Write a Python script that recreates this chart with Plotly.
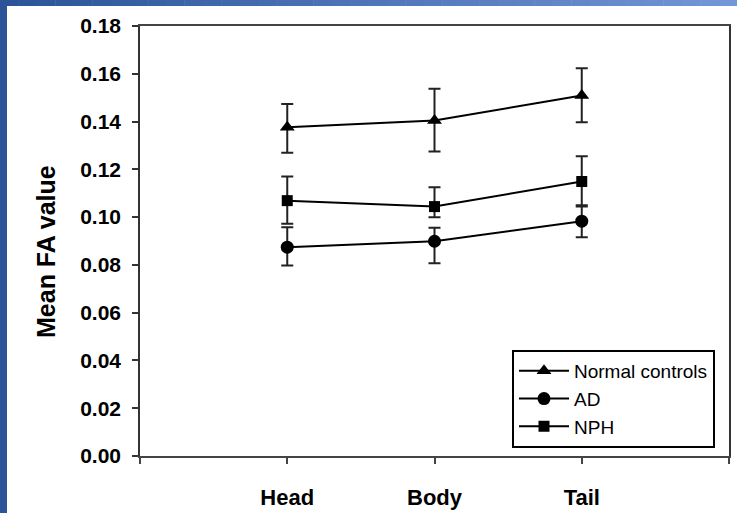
import plotly.graph_objects as go

# ---- data ----
regions = ["Head", "Body", "Tail"]
region_pos = [1, 2, 3]

normal_mean = [0.1376, 0.1404, 0.1509]
normal_err_plus = [0.0098, 0.0133, 0.0114]
normal_err_minus = [0.0107, 0.0129, 0.0112]

ad_mean = [0.0874, 0.0899, 0.0983]
ad_err_plus = [0.0084, 0.0056, 0.0067]
ad_err_minus = [0.0077, 0.0092, 0.0067]

nph_mean = [0.1069, 0.1044, 0.1149]
nph_err_plus = [0.0101, 0.0081, 0.0106]
nph_err_minus = [0.0097, 0.0045, 0.0105]

y_ticks = [0.00, 0.02, 0.04, 0.06, 0.08, 0.10, 0.12, 0.14, 0.16, 0.18]
y_title = "Mean FA value"

W, H = 737, 513
ML, MR, MT, MB = 140, 8, 26, 57
PW, PH = W - ML - MR, H - MT - MB


def px_x(p):
    return (p - ML) / PW


def px_y(p):
    return (H - MB - p) / PH


FONT = "Liberation Sans, Arial, sans-serif"

fig = go.Figure()


def add_series(name, mean, ep, em, symbol, size):
    fig.add_trace(go.Scatter(
        x=region_pos, y=mean, name=name, mode="lines+markers",
        line=dict(color="black", width=2),
        marker=dict(symbol=symbol, size=size, color="black"),
        error_y=dict(type="data", symmetric=False, array=ep, arrayminus=em,
                     color="#222", thickness=2, width=6),
    ))


add_series("Normal controls", normal_mean, normal_err_plus, normal_err_minus, "triangle-up", 13)
add_series("AD", ad_mean, ad_err_plus, ad_err_minus, "circle", 13)
add_series("NPH", nph_mean, nph_err_plus, nph_err_minus, "square", 11)

# decorative slide border (blue band on left and gradient band on top)
shapes = [dict(type="rect", xref="paper", yref="paper",
               x0=px_x(-2), x1=px_x(7), y0=px_y(H + 2), y1=px_y(-2),
               fillcolor="#2b5598", line=dict(width=0), layer="below")]
n = 40
c0 = (0x2b, 0x55, 0x98)
c1 = (0x72, 0x96, 0xd8)
for i in range(n):
    t = i / (n - 1)
    col = "rgb(%d,%d,%d)" % tuple(int(a + (b - a) * t) for a, b in zip(c0, c1))
    shapes.append(dict(type="rect", xref="paper", yref="paper",
                       x0=px_x(W * i / n), x1=px_x(W * (i + 1) / n + 0.5),
                       y0=px_y(6), y1=px_y(-2),
                       fillcolor=col, line=dict(width=0), layer="below"))

fig.update_layout(
    width=W, height=H,
    margin=dict(l=ML, r=MR, t=MT, b=MB, pad=0, autoexpand=False),
    paper_bgcolor="white", plot_bgcolor="white",
    showlegend=True,
    shapes=shapes,
    annotations=[dict(text=y_title, xref="paper", yref="paper",
                      x=px_x(46), y=px_y(252), xanchor="center", yanchor="middle",
                      textangle=-90, showarrow=False,
                      font=dict(family=FONT, size=25, color="black", weight="bold"))],
    legend=dict(
        x=px_x(512), y=px_y(350), xanchor="left", yanchor="top",
        bordercolor="black", borderwidth=2, bgcolor="white",
        font=dict(family=FONT, size=19, color="black"),
        itemwidth=50, tracegroupgap=0,
    ),
    xaxis=dict(
        range=[0, 4], tickvals=[0, 1, 2, 3, 4],
        ticktext=["", regions[0], regions[1], regions[2], ""],
        showgrid=False, zeroline=False, automargin=False,
        showline=True, linecolor="#444", linewidth=1.5, mirror=True,
        ticks="outside", ticklen=6, tickcolor="#444", tickwidth=1.5,
        ticklabelstandoff=15,
        tickfont=dict(family=FONT, size=22, color="black", weight="bold"),
    ),
    yaxis=dict(
        range=[0, 0.18], tickvals=y_ticks, tickformat=".2f",
        showgrid=False, zeroline=False, automargin=False,
        showline=True, linecolor="#333", linewidth=1.5, mirror=True,
        ticks="outside", ticklen=6, tickcolor="#333", tickwidth=1.5,
        ticklabelstandoff=7,
        tickfont=dict(family=FONT, size=21, color="black", weight="bold"),
    ),
)

# the page body has a default 8px margin; remove it so the figure fills the window
fig.write_html("out.html", config={"displayModeBar": False},
               post_script="document.body.style.margin='0';")
